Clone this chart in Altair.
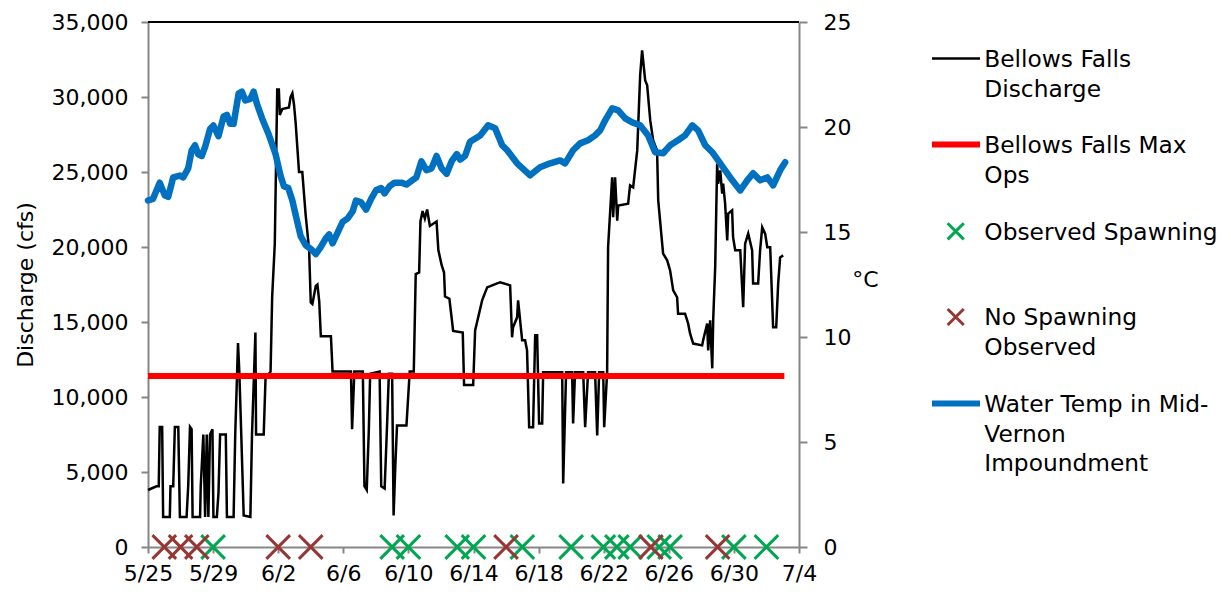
import altair as alt
import pandas as pd

FONT = "DejaVu Sans"
GRAY = "#868686"
BASE = pd.Timestamp("2013-05-25")

# ---- data (days after 5/25) ----
discharge_day = [
    0.00, 0.52, 0.66, 0.72, 0.87, 0.93, 1.34, 1.38, 1.55, 1.65,
    1.86, 1.96, 2.37, 2.47, 2.58, 2.68, 2.74, 3.20, 3.24, 3.40,
    3.51, 3.61, 3.71, 3.81, 3.96, 4.02, 4.23, 4.33, 4.43, 4.78,
    4.85, 5.26, 5.36, 5.53, 5.61, 5.73, 5.88, 6.29, 6.39, 6.60,
    6.64, 7.11, 7.22, 7.53, 7.63, 7.79, 7.94, 8.04, 8.10, 8.25,
    8.66, 8.76, 8.87, 8.97, 9.07, 9.28, 9.48, 9.69, 9.90, 10.00,
    10.10, 10.31, 10.41, 10.52, 10.62, 11.24, 11.34, 12.47, 12.54, 12.68,
    13.20, 13.30, 13.44, 13.57, 13.65, 14.23, 14.33, 14.54, 14.68, 14.80,
    15.00, 15.09, 15.20, 15.30, 15.88, 16.08, 16.33, 16.45, 16.66, 16.74,
    16.87, 17.01, 17.15, 17.32, 17.73, 17.84, 18.04, 18.19, 18.25, 18.52,
    18.75, 19.34, 19.42, 19.98, 20.10, 20.53, 20.84, 21.45, 21.64, 22.25,
    22.37, 22.43, 22.68, 22.74, 22.99, 23.17, 23.29, 23.42, 23.66, 23.79,
    23.91, 24.03, 24.22, 24.28, 25.45, 25.51, 25.69, 26.06, 26.12, 26.24,
    26.74, 26.86, 27.04, 27.47, 27.60, 27.72, 27.97, 28.03, 28.21, 28.27,
    28.52, 28.58, 28.70, 28.83, 28.89, 29.50, 29.62, 29.81, 30.06, 30.24,
    30.36, 30.55, 30.67, 30.86, 31.04, 31.28, 31.35, 31.65, 31.90, 32.08,
    32.27, 32.51, 32.57, 33.00, 33.19, 33.31, 33.50, 34.05, 34.11, 34.36,
    34.42, 34.54, 34.67, 34.73, 34.85, 34.97, 35.03, 35.16, 35.28, 35.34,
    35.46, 35.59, 35.65, 35.89, 35.95, 36.08, 36.39, 36.57, 36.69, 36.88,
    37.12, 37.18, 37.49, 37.61, 37.74, 37.92, 38.05, 38.23, 38.41, 38.60,
    38.72, 38.84, 39.03,
]
discharge_cfs = [
    3800, 4050, 4050, 8000, 8000, 2000, 2000, 4050, 4050, 8000,
    8000, 2000, 2000, 4050, 8000, 7850, 2000, 2000, 4050, 7500,
    2000, 7500, 2000, 7500, 7850, 2000, 2000, 3600, 7500, 7500,
    2000, 2000, 7500, 13600, 11700, 7500, 2100, 2000, 7500, 14300,
    7500, 7500, 11200, 11700, 16700, 20200, 30500, 30500, 28800, 29200,
    29300, 30000, 30250, 29500, 28300, 25000, 25000, 22100, 19800, 16300,
    16200, 17400, 17500, 16400, 14050, 14050, 11700, 11700, 7850, 11700,
    11700, 4050, 3800, 7850, 11550, 11700, 4050, 3900, 7850, 11550,
    11550, 2100, 5500, 8100, 8100, 11700, 11700, 18200, 18300, 21700,
    22400, 21900, 22500, 21400, 21700, 19800, 18800, 18300, 16700, 16550,
    14400, 14300, 10800, 10800, 14440, 16440, 17310, 17580, 17650, 17440,
    13980, 14650, 15310, 16440, 13780, 13780, 13110, 7980, 7980, 14110,
    14110, 8240, 8240, 11650, 11650, 4240, 11650, 11650, 8240, 11650,
    11650, 7980, 11650, 11650, 7440, 11650, 11650, 7980, 11650, 20000,
    24650, 21980, 24650, 21760, 22760, 22890, 24110, 23980, 26440, 31440,
    33110, 31110, 30780, 28440, 27110, 26440, 23110, 19560, 19110, 18440,
    17110, 16650, 15550, 15550, 14890, 14220, 13560, 13440, 13780, 14890,
    13110, 15110, 11910, 15220, 18660, 25560, 24220, 25110, 23560, 24220,
    22890, 20440, 22220, 22440, 20660, 19780, 19780, 15980, 20220, 20890,
    19780, 17560, 17560, 19780, 21310, 20890, 19980, 19980, 14650, 14650,
    17560, 19310, 19440,
]

temp_day = [
    0.00, 0.31, 0.72, 1.03, 1.24, 1.55, 1.96, 2.16, 2.47, 2.68,
    2.89, 3.09, 3.30, 3.51, 3.81, 4.02, 4.33, 4.64, 4.85, 5.05,
    5.26, 5.57, 5.77, 5.98, 6.29, 6.49, 6.70, 7.01, 7.42, 7.84,
    8.14, 8.35, 8.62, 8.87, 9.07, 9.38, 9.69, 10.00, 10.31, 10.62,
    10.93, 11.13, 11.34, 11.65, 11.96, 12.27, 12.58, 12.78, 13.09, 13.40,
    13.71, 14.02, 14.33, 14.54, 14.85, 15.15, 15.57, 15.88, 16.19, 16.49,
    16.80, 17.11, 17.42, 17.73, 18.04, 18.35, 18.66, 18.97, 19.18, 19.48,
    19.79, 20.41, 20.90, 21.33, 21.76, 22.07, 22.68, 23.48, 24.09, 24.71,
    25.32, 25.63, 26.12, 26.55, 27.04, 27.47, 27.78, 28.09, 28.52, 28.89,
    29.32, 29.75, 30.24, 30.73, 31.16, 31.65, 32.08, 32.57, 33.00, 33.44,
    33.80, 34.24, 34.67, 35.16, 35.77, 36.39, 36.82, 37.18, 37.61, 38.05,
    38.41, 38.84, 39.15,
]
temp_c = [
    16.5, 16.58, 17.35, 16.75, 16.67, 17.6, 17.69, 17.6, 18.03, 18.88,
    19.13, 18.7, 18.62, 19.05, 19.9, 20.07, 19.56, 20.49, 20.58, 20.15,
    20.15, 21.6, 21.68, 21.26, 21.34, 21.68, 21.09, 20.41, 19.64, 18.7,
    17.69, 17.18, 17.09, 16.5, 15.82, 14.8, 14.37, 14.2, 13.95, 14.29,
    14.71, 14.88, 14.46, 14.97, 15.48, 15.65, 15.99, 16.5, 16.41, 16.07,
    16.58, 17.0, 17.09, 16.84, 17.18, 17.35, 17.35, 17.26, 17.43, 17.6,
    18.37, 17.94, 18.03, 18.62, 18.03, 17.77, 18.37, 18.71, 18.45, 18.62,
    19.3, 19.6, 20.08, 19.94, 19.13, 18.89, 18.27, 17.7, 18.08, 18.27,
    18.41, 18.27, 18.89, 19.22, 19.37, 19.6, 19.84, 20.32, 20.89, 20.79,
    20.41, 20.22, 20.08, 19.6, 18.8, 18.75, 19.13, 19.37, 19.6, 20.08,
    19.84, 19.13, 18.8, 18.27, 17.6, 16.98, 17.46, 17.8, 17.46, 17.6,
    17.22, 17.94, 18.32,
]

max_ops_day = [0.0, 39.1]
max_ops_cfs = [11400, 11400]

spawn_day = [4, 15, 16, 19, 20, 23, 26, 27.98, 28.81, 29.63, 31.41, 32.08, 36, 38]
no_spawn_day = [1, 2, 3, 8, 10, 22, 30.9, 35]

x_tick_days = [0, 4, 8, 12, 16, 20, 24, 28, 32, 36, 40]
y_left_ticks = [0, 5000, 10000, 15000, 20000, 25000, 30000, 35000]
y_right_ticks = [0, 5, 10, 15, 20, 25]

legend_labels = [
    "Bellows Falls\nDischarge",
    "Bellows Falls Max\nOps",
    "Observed Spawning",
    "No Spawning\nObserved",
    "Water Temp in Mid-\nVernon\nImpoundment",
]
legend_colors = ["#000000", "#FF0000", "#00A650", "#953735", "#0070C0"]


def to_dates(days):
    return BASE + pd.to_timedelta(days, unit="D")


def dt(day):
    t = BASE + pd.Timedelta(days=day)
    return alt.DateTime(year=t.year, month=t.month, date=t.day)


discharge_df = pd.DataFrame({"date": to_dates(discharge_day), "cfs": discharge_cfs})
temp_df = pd.DataFrame({"date": to_dates(temp_day), "temp": temp_c})
maxops_df = pd.DataFrame({"date": to_dates(max_ops_day), "cfs": max_ops_cfs})
spawn_df = pd.DataFrame({"date": to_dates(spawn_day), "cfs": [0] * len(spawn_day)})
nospawn_df = pd.DataFrame({"date": to_dates(no_spawn_day), "cfs": [0] * len(no_spawn_day)})
top_df = pd.DataFrame({"cfs": [35000]})

X_PATH = "M-1,-1L1,1M-1,1L1,-1"

x_axis = alt.Axis(
    values=[dt(d) for d in x_tick_days], format="%-m/%-d", title=None, grid=False,
    labelFont=FONT, labelFontSize=22, labelColor="#000000", labelPadding=10,
    labelFlush=False, labelOverlap=False, domainColor=GRAY, domainWidth=2,
    tickColor=GRAY, tickWidth=2, tickSize=6,
)
x_enc = alt.X("date:T", scale=alt.Scale(domain=[dt(0), dt(40)], nice=False), axis=x_axis)

left_axis = alt.Axis(
    values=y_left_ticks, format=",.0f", title="Discharge (cfs)", grid=False,
    titleFont=FONT, titleFontSize=22, titleFontWeight="normal", titleColor="#000000",
    titlePadding=14, labelFont=FONT, labelFontSize=22, labelColor="#000000",
    labelPadding=13, domainColor=GRAY, domainWidth=2, tickColor=GRAY, tickWidth=2,
    tickSize=7,
)
y_left = alt.Y("cfs:Q", scale=alt.Scale(domain=[0, 35000], nice=False), axis=left_axis)

right_axis = alt.Axis(
    orient="right", values=y_right_ticks, format="d", title="°C", grid=False,
    titleFont=FONT, titleFontSize=22, titleFontWeight="normal", titleColor="#000000",
    titleAngle=0, titleX=66, titleY=257, titleAlign="center", titleBaseline="middle",
    labelFont=FONT, labelFontSize=22, labelColor="#000000", labelPadding=16,
    domainColor=GRAY, domainWidth=2, tickColor=GRAY, tickWidth=2, tickSize=8,
)
y_right = alt.Y("temp:Q", scale=alt.Scale(domain=[0, 25], nice=False), axis=right_axis)

top_rule = alt.Chart(top_df).mark_rule(color="black", strokeWidth=2).encode(y=y_left)

discharge = alt.Chart(discharge_df).mark_line(
    color="#000000", strokeWidth=2.5, strokeJoin="miter"
).encode(x=x_enc, y=y_left)

maxops = alt.Chart(maxops_df).mark_line(color="#FF0000", strokeWidth=6).encode(x=x_enc, y=y_left)

green = alt.Chart(spawn_df).mark_point(
    shape=X_PATH, size=560, filled=False, strokeWidth=3, color=legend_colors[2], opacity=1
).encode(x=x_enc, y=y_left)

brown = alt.Chart(nospawn_df).mark_point(
    shape=X_PATH, size=560, filled=False, strokeWidth=3, color=legend_colors[3], opacity=1
).encode(x=x_enc, y=y_left)

temp = alt.Chart(temp_df).mark_line(
    color="#0070C0", strokeWidth=6.5, strokeJoin="round", strokeCap="round"
).encode(x=x_enc, y=y_right)

# ---- legend (drawn to the right of the plot area) ----
LEG_SYM_Y = [36.6, 122.6, 209.3, 295.0, 381.6]
LEG_LINE_X0, LEG_LINE_X1, LEG_CROSS_X, LEG_TEXT_X = 784, 832, 807.7, 836.3
one = pd.DataFrame({"k": [0]})
legend_layers = []
for i, lab in enumerate(legend_labels):
    if i in (2, 3):
        sym = alt.Chart(one).mark_point(
            shape=X_PATH, size=260, filled=False, strokeWidth=3,
            color=legend_colors[i], opacity=1,
        ).encode(x=alt.value(LEG_CROSS_X), y=alt.value(LEG_SYM_Y[i]))
    else:
        sym = alt.Chart(one).mark_rule(
            color=legend_colors[i], strokeWidth=[2.5, 6, 0, 0, 6][i]
        ).encode(x=alt.value(LEG_LINE_X0), x2=alt.value(LEG_LINE_X1), y=alt.value(LEG_SYM_Y[i]))
    txt = alt.Chart(pd.DataFrame({"label": [lab]})).mark_text(
        align="left", baseline="alphabetic", lineBreak="\n", lineHeight=29.5,
        font=FONT, fontSize=23.3, color="#000000",
    ).encode(x=alt.value(LEG_TEXT_X), y=alt.value(LEG_SYM_Y[i] + 8.4), text="label:N")
    legend_layers += [sym, txt]

left_group = alt.layer(top_rule, discharge, maxops, green, brown, *legend_layers)
right_group = alt.layer(temp)

chart = (
    alt.layer(left_group, right_group)
    .resolve_scale(y="independent")
    .properties(
        width=651, height=525,
        autosize=alt.AutoSizeParams(type="none"),
        padding={"left": 140, "top": 14, "right": 424, "bottom": 39},
        background="white",
    )
    .configure_view(stroke=None)
)

chart.save("out.html", embed_options={"renderer": "svg", "actions": False})
